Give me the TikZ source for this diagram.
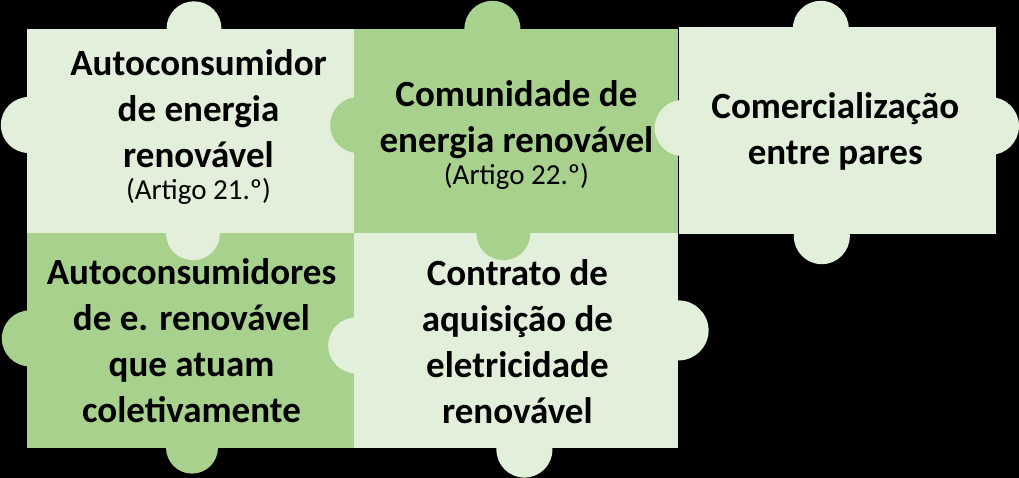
\documentclass[tikz,border=0pt]{standalone}
\usepackage{fontspec}
\setmainfont{Carlito}
\usetikzlibrary{positioning}

\definecolor{lite}{HTML}{E2EFDA}
\definecolor{mid}{HTML}{A9D18E}
\newcommand{\artigo}[1]{{\mdseries\fontsize{29}{32}\selectfont (Artigo #1.º)}}

\begin{document}
\begin{tikzpicture}[
                    x=1pt, y=-1pt,
                    node distance=0pt,
                    every node/.style={
                        rectangle,
                        inner sep=0pt,
                        align=center,
                        text=black,
                        font=\fontsize{37}{46}\selectfont\bfseries
                    },
                    piece/.style={fill=#1, minimum width=324pt, minimum height=204pt}
                ]

                    \fill[black] (0,0) rectangle (1019,478);
                    \useasboundingbox (0,0) rectangle (1019,478);

                    % Pieces
                    \node[piece=lite, minimum width=327pt] (p1) at (190.5,131) {};
                    \node[piece=mid] (p2) [right=of p1] {};
                    \node[piece=lite, minimum width=317pt, minimum height=207pt] (p3) [right=of p2] {};
                    \node[piece=mid, minimum width=327pt, minimum height=215pt] (p4) [below=of p1] {};
                    \node[piece=lite, minimum height=215pt] (p5) [right=of p4] {};

                    % Tabs
                    \fill[lite] ([xshift=3.5pt]p1.north) circle[radius=27.5pt];
                    \fill[lite] ([xshift=2pt, yshift=6pt]p1.west) circle[radius=28pt];
                    \fill[lite] ([xshift=2.5pt]p1.south) circle[radius=27pt];
                    \fill[mid] ([xshift=-24pt]p2.north) circle[radius=28pt];
                    \fill[mid] ([xshift=4pt, yshift=6pt]p2.west) circle[radius=28pt];
                    \fill[mid] ([xshift=-13pt]p2.south) circle[radius=27pt];
                    \fill[lite] ([xshift=-16.5pt, yshift=-1.5pt]p3.north) circle[radius=28pt];
                    \fill[lite] ([xshift=4pt, yshift=3pt]p3.west) circle[radius=28pt];
                    \fill[lite] ([xshift=-6pt, yshift=5pt]p3.east) circle[radius=29pt];
                    \fill[lite] ([xshift=-15.5pt, yshift=-1.5pt]p3.south) circle[radius=28pt];
                    \fill[mid] ([xshift=3pt, yshift=2.5pt]p4.west) circle[radius=28pt];
                    \fill[mid] ([xshift=1.5pt, yshift=1pt]p4.south) circle[radius=26pt];
                    \fill[lite] ([xshift=2pt, yshift=-4.5pt]p5.west) circle[radius=28pt];
                    \fill[lite] ([yshift=10.5pt]p5.east) circle[radius=30pt];
                    \fill[lite] ([xshift=8pt, yshift=-1pt]p5.south) circle[radius=28pt];

                    % Texts
                    \node (t1) at ([xshift=8pt, yshift=4pt]p1.center) {Autoconsumidor\\de energia\\renovável\\[-14pt]\artigo{21}};
                    \node (t2) at ([yshift=-4pt]p2.center) {Comunidade de\\energia renovável\\[-14pt]\artigo{22}};
                    \node (t3) at ([xshift=-2pt]p3.center) {Comercialização\\entre pares};
                    \node (t4) at ([xshift=1pt]p4.center) {Autoconsumidores\\de e. renovável\\que atuam\\coletivamente};
                    \node (t5) at ([xshift=1pt, yshift=-1pt]p5.center) {Contrato de\\aquisição de\\eletricidade\\renovável};
                \end{tikzpicture}
\end{document}
